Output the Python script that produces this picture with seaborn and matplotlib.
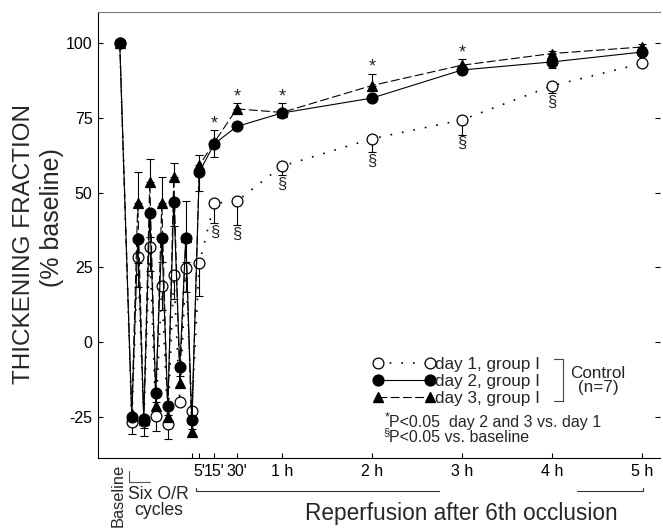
import numpy as np
import pandas as pd
import matplotlib
matplotlib.use("Agg")
import matplotlib.pyplot as plt
import matplotlib.transforms as mtransforms
from matplotlib.lines import Line2D
import seaborn as sns

# ---------------- data ----------------
# time in minutes relative to the end of the 6th occlusion
time_min = [-48, -40, -36, -32, -28, -24, -20, -16, -12, -8, -4, 0,
            5, 15, 30, 60, 120, 180, 240, 300]

day1 = [100, -26.7, 28.4, -26.3, 31.7, -24.9, 18.6, -27.3, 22.5, -20.1, 24.8, -23.2,
        26.4, 46.4, 47.1, 58.8, 68.0, 74.3, 85.7, 93.2]
day1_lo = [0, 4, 10, 5, 8, 5, 8, 5, 8, 0, 8, 0,
           11, 6.7, 8, 3, 4.5, 5, 2.5, 0]
day1_hi = [0, 0, 0, 0, 0, 0, 0, 0, 0, 0, 0, 0,
           0, 0, 0, 0, 0, 0, 0, 0]

day2 = [100, -25.1, 34.4, -25.9, 43.2, -17.1, 34.9, -21.4, 46.7, -8.3, 34.7, -26.2,
        56.9, 66.3, 72.1, 76.6, 81.6, 91.0, 93.7, 97.0]
day2_lo = [0, 3, 8, 3, 8, 3, 8, 3, 8, 3, 8, 3,
           6.4, 4.3, 0, 0, 1, 1.5, 2, 1]
day2_hi = [0, 0, 0, 0, 0, 0, 0, 0, 0, 0, 0, 0,
           0, 0, 0, 0, 0, 0, 0, 0]

day3 = [100, -24.0, 46.4, -26.0, 53.6, -21.3, 46.6, -25.1, 55.2, -13.8, 35.0, -30.1,
        59.1, 66.8, 78.0, 76.8, 85.8, 92.6, 96.5, 98.7]
day3_lo = [0, 0, 0, 0, 0, 0, 0, 0, 0, 0, 0, 0,
           0, 0, 0, 0, 0, 0, 0, 0]
day3_hi = [0, 0, 10.6, 0, 7.7, 0, 8.6, 0, 4.7, 0, 12.1, 0,
           3.3, 4, 1.8, 3.0, 4, 2, 1, 1]

series_labels = ["day 1, group I", "day 2, group I", "day 3, group I"]

star_times = [15, 30, 60, 120, 180]          # *P<0.05 day 2 and 3 vs. day 1
sect_times = [15, 30, 60, 120, 180, 240]     # §P<0.05 vs. baseline

xtick_times = [0, 5, 15, 30, 60, 120, 180, 240, 300]
xtick_labels = ["", "5'", "15'", "30'", "1 h", "2 h", "3 h", "4 h", "5 h"]
ytick_values = [100, 75, 50, 25, 0, -25]
ytick_labels = ["100", "75", "50", "25", "0", "-25"]

# ---------------- style ----------------
sns.set_style("ticks")
plt.rcParams["font.family"] = ["Liberation Sans", "DejaVu Sans"]

fig = plt.figure(figsize=(6.63, 5.32), dpi=100)
ax = fig.add_axes([98 / 663, 74 / 532, 562 / 663, 446 / 532])

df = pd.DataFrame({
    "time": time_min * 3,
    "value": day1 + day2 + day3,
    "lo": day1_lo + day2_lo + day3_lo,
    "hi": day1_hi + day2_hi + day3_hi,
    "series": [series_labels[0]] * len(time_min) + [series_labels[1]] * len(time_min)
              + [series_labels[2]] * len(time_min),
})

styles = {
    series_labels[0]: dict(marker="o", markerfacecolor="white", linestyle=(0, (1, 6)), lw=1.2),
    series_labels[2]: dict(marker="^", markerfacecolor="black", linestyle=(0, (8, 3)), lw=0.8),
    series_labels[1]: dict(marker="o", markerfacecolor="black", linestyle="-", lw=0.8),
}

for name in [series_labels[0], series_labels[2], series_labels[1]]:
    sub = df[df["series"] == name]
    st = styles[name]
    m = (sub["lo"] > 0) | (sub["hi"] > 0)
    ax.errorbar(sub["time"][m], sub["value"][m], yerr=[sub["lo"][m], sub["hi"][m]],
                fmt="none", ecolor="black", elinewidth=0.8, capsize=3, capthick=0.8, zorder=1.5)
    sns.lineplot(data=sub, x="time", y="value", ax=ax, color="black",
                 marker=st["marker"], markersize=7.8, markerfacecolor=st["markerfacecolor"],
                 markeredgecolor="black", markeredgewidth=0.9,
                 linestyle=st["linestyle"], lw=st["lw"], estimator=None, sort=False,
                 errorbar=None, legend=False, zorder=2)

# significance markers
d1 = df[df["series"] == series_labels[0]].set_index("time")
d2 = df[df["series"] == series_labels[1]].set_index("time")
d3 = df[df["series"] == series_labels[2]].set_index("time")
for t in star_times:
    top = max(d3.loc[t, "value"] + d3.loc[t, "hi"], d2.loc[t, "value"] + d2.loc[t, "hi"])
    ax.annotate("*", (t, top), xytext=(0, 1.5), textcoords="offset points",
                ha="center", va="baseline", fontsize=13)
for t in sect_times:
    bot = d1.loc[t, "value"] - d1.loc[t, "lo"]
    ax.annotate("§", (t, bot), xytext=(0, -1), textcoords="offset points",
                ha="center", va="top", fontsize=12)

# axes
ax.set_xlim(-62.5, 312)
ax.set_ylim(-38.8, 110.4)
ax.set_xticks(xtick_times)
ax.set_xticklabels(xtick_labels, fontsize=11.5)
ax.set_yticks(ytick_values)
ax.set_yticklabels(ytick_labels, fontsize=11.5)
ax.tick_params(axis="both", direction="in", length=3.5, width=0.8, pad=4, colors="black")
ax.tick_params(axis="y", right=True)
ax.set_xlabel("")
ax.set_ylabel("")
for s in ["left", "bottom"]:
    ax.spines[s].set_linewidth(0.8)
    ax.spines[s].set_color("black")
ax.spines["top"].set_visible(True)
ax.spines["top"].set_linewidth(0.8)
ax.spines["top"].set_color("#777777")
ax.spines["right"].set_visible(False)

# y label (two lines)
fig.text(24 / 663, (532 - 244) / 532, "THICKENING FRACTION", rotation=90,
         ha="center", va="center", fontsize=17.5)
fig.text(52 / 663, (532 - 218) / 532, "(% baseline)", rotation=90,
         ha="center", va="center", fontsize=18)

# legend
handles = [
    Line2D([], [], color="black", marker="o", markerfacecolor="white", markeredgecolor="black",
           markersize=7.8, markeredgewidth=0.9, linestyle=(0, (1, 6)), lw=1.2),
    Line2D([], [], color="black", marker="o", markerfacecolor="black", markeredgecolor="black",
           markersize=7.8, linestyle="-", lw=0.8),
    Line2D([], [], color="black", marker="^", markerfacecolor="black", markeredgecolor="black",
           markersize=7.8, linestyle=(0, (8, 3)), lw=0.8),
]
leg = ax.legend(handles, series_labels, loc="upper left", bbox_to_anchor=(0.4897, 0.2265),
                frameon=False, numpoints=2, handlelength=3.6, handletextpad=0.0,
                borderpad=0, borderaxespad=0, labelspacing=0.12, fontsize=12.3)

# bracket + Control
tA = ax.transAxes
ax.add_line(Line2D([0.811, 0.827, 0.827, 0.811], [0.222, 0.222, 0.128, 0.128],
                   transform=tA, color="#444444", lw=0.8, clip_on=False))
ax.text(0.890, 0.174, "Control\n(n=7)", transform=tA, ha="center", va="center",
        fontsize=12.3, linespacing=0.95)

# footnotes
ax.text(0.518, 0.080, "P<0.05  day 2 and 3 vs. day 1", transform=tA, ha="left", va="center",
        fontsize=11.5)
ax.text(0.518, 0.091, "*", transform=tA, ha="right", va="center", fontsize=9)
ax.text(0.518, 0.046, "P<0.05 vs. baseline", transform=tA, ha="left", va="center",
        fontsize=11.5)
ax.text(0.518, 0.058, "§", transform=tA, ha="right", va="center", fontsize=8)

# below-axis annotations (x in data, y in axes fraction)
tB = mtransforms.blended_transform_factory(ax.transData, ax.transAxes)
ax.text(-49, -0.014, "Baseline", transform=tB, rotation=90, ha="center", va="top",
        fontsize=11.8, clip_on=False)
ax.text(-22, -0.099, "Six O/R\ncycles", transform=tB, ha="center", va="center",
        fontsize=12.7, linespacing=0.9, clip_on=False)
ax.add_line(Line2D([-41.8, -41.8, -28], [-0.029, -0.053, -0.053], transform=tB,
                   color="#555555", lw=0.8, clip_on=False))
ax.add_line(Line2D([2.9, 2.9, 165], [-0.067, -0.074, -0.074], transform=tB,
                   color="#333333", lw=0.8, clip_on=False))
ax.add_line(Line2D([257, 301, 301], [-0.074, -0.074, -0.067], transform=tB,
                   color="#333333", lw=0.8, clip_on=False))
ax.text(0.646, -0.124, "Reperfusion after 6th occlusion", transform=tA, ha="center",
        va="center", fontsize=16.3, clip_on=False)

fig.savefig("out.png", dpi=100)
